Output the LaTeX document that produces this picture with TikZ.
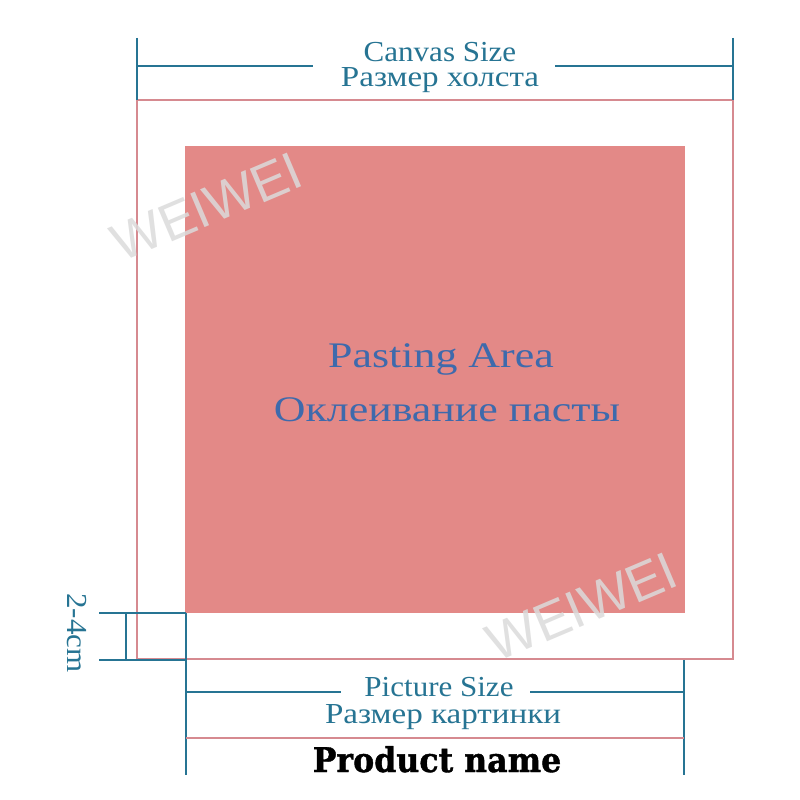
\documentclass[tikz,border=0pt]{standalone}
\usepackage{fontspec}
\setmainfont{Liberation Serif}
\newfontfamily\latdim{Liberation Serif}[FakeStretch=1.07]
\newfontfamily\cyrdim{Liberation Serif}[FakeStretch=1.14]
\newfontfamily\areafont{Liberation Serif}[FakeStretch=1.22]
\newfontfamily\prodfont{DejaVu Serif}[FakeStretch=0.93,FakeBold=1.2]
\newfontfamily\wmfont{Liberation Sans}
\definecolor{dimteal}{RGB}{38,116,147}
\definecolor{pastefill}{RGB}{227,137,135}
\definecolor{edgepink}{RGB}{214,138,144}
\definecolor{areablue}{RGB}{62,106,172}
\tikzset{
  dimline/.style={draw=dimteal, line width=2pt},
  pinkline/.style={draw=edgepink, line width=1.6pt},
  dimtext/.style={text=dimteal, anchor=base, inner sep=0pt},
  latintext/.style={dimtext, font=\latdim\fontsize{29}{29}\selectfont},
  cyrtext/.style={dimtext, font=\cyrdim\fontsize{29}{29}\selectfont},
  areatext/.style={text=areablue, anchor=base, font=\areafont\fontsize{36}{36}\selectfont, inner sep=0pt},
  wmtext/.style={text=gray!28, text opacity=0.85, font=\wmfont\fontsize{53}{53}\selectfont, rotate=23, inner sep=0pt},
}
\begin{document}
\begin{tikzpicture}[x=1pt,y=-1pt]
\useasboundingbox (0,0) rectangle (800,800);
\fill[white] (0,0) rectangle (800,800);
% canvas and paste area
\coordinate (cTL) at (137,100);
\coordinate (cBR) at (733,659);
\coordinate (pTL) at (185,146);
\coordinate (pBR) at (685,613);
\fill[pastefill] (pTL) rectangle (pBR);
\draw[pinkline] (cTL) rectangle (cBR);
% top dimension
\coordinate (tL1) at (137,38);
\coordinate (tL2) at (137,100);
\coordinate (tR1) at (733,38);
\coordinate (tR2) at (733,100);
\coordinate (tLm) at (137,66);
\coordinate (tRm) at (733,66);
\node[latintext] (cs1) at (440,62) {Canvas Size};
\node[cyrtext] (cs2) at (440,86) {Размер холста};
\draw[dimline] (tL1) -- (tL2);
\draw[dimline] (tR1) -- (tR2);
\coordinate (tA) at (313,66);
\coordinate (tB) at (555,66);
\draw[dimline] (tLm) -- (tA);
\draw[dimline] (tB) -- (tRm);
% center text
\node[areatext] (pa1) at (441,367) {Pasting Area};
\node[areatext] (pa2) at (447,421) {Оклеивание пасты};
% watermarks
\node[wmtext] (wm1) at (207,207) {WEIWEI};
\node[wmtext] (wm2) at (582,607) {WEIWEI};
% left bracket
\coordinate (lA1) at (99,613);
\coordinate (lA2) at (186,613);
\coordinate (lB1) at (99,660);
\coordinate (lB2) at (186,660);
\coordinate (lV1) at (126,613);
\coordinate (lV2) at (126,660);
\draw[dimline] (lA1) -- (lA2);
\draw[dimline] (lB1) -- (lB2);
\draw[dimline] (lV1) -- (lV2);
\node[text=dimteal, inner sep=0pt, font=\latdim\fontsize{29}{29}\selectfont, rotate=-90] (gap) at (77,633) {2-4cm};
% bottom dimension
\coordinate (bL1) at (186,613);
\coordinate (bL2) at (186,775);
\coordinate (bR1) at (684,660);
\coordinate (bR2) at (684,775);
\draw[dimline] (bL1) -- (bL2);
\draw[dimline] (bR1) -- (bR2);
\coordinate (bLm) at (186,692);
\coordinate (bA) at (341,692);
\coordinate (bB) at (530,692);
\coordinate (bRm) at (684,692);
\draw[dimline] (bLm) -- (bA);
\draw[dimline] (bB) -- (bRm);
\node[latintext] (ps1) at (439,696) {Picture Size};
\node[cyrtext] (ps2) at (443,723) {Размер картинки};
\coordinate (nL) at (186,738);
\coordinate (nR) at (684,738);
\draw[pinkline] (nL) -- (nR);
\node[anchor=base, inner sep=0pt, font=\prodfont\bfseries\fontsize{34}{34}\selectfont] (prod) at (437,772) {Product name};
\end{tikzpicture}
\end{document}
